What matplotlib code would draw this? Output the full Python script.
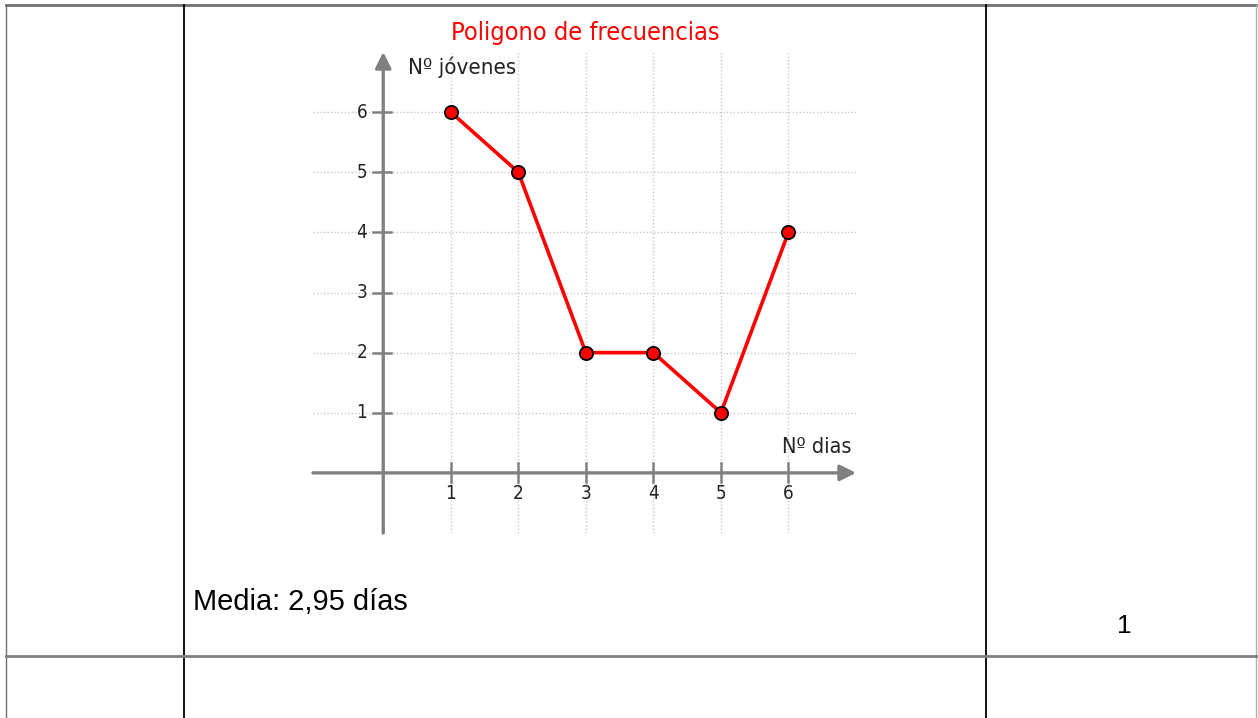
import matplotlib.pyplot as plt
from matplotlib import font_manager
from matplotlib.font_manager import FontProperties

# datos del polígono
dias = [1, 2, 3, 4, 5, 6]
jovenes = [6, 5, 2, 2, 1, 4]
x_ticks = [1, 2, 3, 4, 5, 6]
y_ticks = [1, 2, 3, 4, 5, 6]
titulo = "Poligono de frecuencias"
media_txt = "Media: 2,95 días"
pagina = "1"

W, H = 1258, 718
plt.rcParams["font.family"] = ["Liberation Sans", "DejaVu Sans"]

# buscar una fuente estrecha si existe
narrow_file = None
for f in font_manager.fontManager.ttflist:
    if f.style == "normal" and f.weight in (400, "normal") and \
            ("Narrow" in f.name or "condensed" in str(f.stretch) or "Condensed" in f.fname):
        if "Bold" not in f.fname and "Oblique" not in f.fname and "Italic" not in f.fname:
            narrow_file = f.fname
            break


def fp(size, narrow_size):
    if narrow_file:
        return FontProperties(fname=narrow_file, size=narrow_size)
    return FontProperties(family="Liberation Sans", size=size)


fig = plt.figure(figsize=(W / 100, H / 100), dpi=100)

# capa de página en píxeles (bordes de la tabla)
page = fig.add_axes([0, 0, 1, 1])
page.set_xlim(0, W)
page.set_ylim(H, 0)
page.axis("off")
page.plot([6, 1257], [5, 5], color="#707070", lw=2)
page.plot([6, 6], [5, H], color="#707070", lw=1)
page.plot([1256, 1256], [5, H], color="#b0b0b0", lw=1)
page.plot([184, 184], [5, H], color="black", lw=1.3)
page.plot([986, 986], [5, H], color="black", lw=1.3)
page.plot([6, 1257], [656, 656], color="#808080", lw=2)
page.text(193, 602, media_txt, fontsize=20.9, va="center", ha="left", color="black")
page.text(1124, 626, pagina, fontsize=19, va="center", ha="center", color="black")

# gráfico
x0, x1 = 313, 856
y0, y1 = 52, 533
ax = fig.add_axes([x0 / W, 1 - y1 / H, (x1 - x0) / W, (y1 - y0) / H])
ax.set_xlim(-1.04, 7.0)
ax.set_ylim(-1.0, 7.0)
ax.axis("off")

grid_kw = dict(color="#c8c8c8", lw=1, ls=(0, (1, 1.5)), zorder=1)
for v in x_ticks:
    ax.axvline(v, **grid_kw)
for v in y_ticks:
    ax.axhline(v, **grid_kw)

axis_col = "#808080"
ax.annotate("", xy=(7.0, 0), xytext=(-1.04, 0),
            arrowprops=dict(arrowstyle="-|>", color=axis_col, lw=2.4, mutation_scale=24,
                            shrinkA=0, shrinkB=0), zorder=2)
ax.annotate("", xy=(0, 7.0), xytext=(0, -1.0),
            arrowprops=dict(arrowstyle="-|>", color=axis_col, lw=2.4, mutation_scale=24,
                            shrinkA=0, shrinkB=0), zorder=2)
for v in x_ticks:
    ax.plot([v, v], [-0.16, 0.16], color=axis_col, lw=1.8, zorder=2)
    ax.text(v, -0.35, str(v), ha="center", va="center",
            fontproperties=fp(12.5, 13.5), color="#222222")
for v in y_ticks:
    ax.plot([-0.15, 0.12], [v, v], color=axis_col, lw=1.8, zorder=2)
    ax.text(-0.24, v, str(v), ha="right", va="center",
            fontproperties=fp(12.5, 13.5), color="#222222")

ax.plot(dias, jovenes, color="#ff0000", lw=2.6, marker="o", markersize=9.5,
        markerfacecolor="#ff0000", markeredgecolor="black", markeredgewidth=1.3,
        zorder=4, clip_on=False)

ax.text(0.36, 6.75, "Nº jóvenes", fontproperties=fp(15, 16), ha="left",
        va="center", color="#222222")
ax.text(6.93, 0.43, "Nº dias", fontproperties=fp(15, 15.5), ha="right",
        va="center", color="#222222")

page.text(585, 33, titulo, fontproperties=fp(18, 18.2), color="#ff0000",
          ha="center", va="center")

fig.savefig("out.png", dpi=100)
